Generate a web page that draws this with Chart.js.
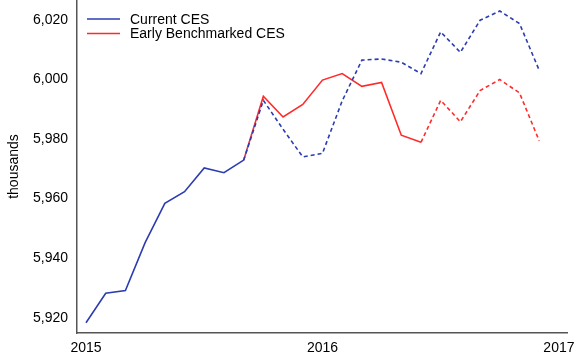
<!DOCTYPE html>
<html>
<head>
<meta charset="utf-8">
<script src="https://cdn.jsdelivr.net/npm/chart.js@4/dist/chart.umd.min.js"></script>
<style>
  html, body { margin: 0; padding: 0; background: #fff; }
  canvas { display: block; }
</style>
</head>
<body>
<canvas id="c" width="585" height="357"></canvas>
<script>
// ---- Data ----
const months = ['2015-01','2015-02','2015-03','2015-04','2015-05','2015-06','2015-07','2015-08','2015-09','2015-10','2015-11','2015-12',
                '2016-01','2016-02','2016-03','2016-04','2016-05','2016-06','2016-07','2016-08','2016-09','2016-10','2016-11','2016-12'];
const currentCES = [5918.3, 5928.2, 5929.1, 5945.2, 5958.4, 5962.3, 5970.3, 5968.7, 5972.9, 5993.0, 5983.3, 5974.0,
                    5975.2, 5992.8, 6006.5, 6006.9, 6005.8, 6002.0, 6016.0, 6009.1, 6019.9, 6023.0, 6018.8, 6003.1];
const earlyBenchmarkedCES = [null, null, null, null, null, null, null, null, 5972.9, 5994.4, 5987.4, 5991.6,
                             5999.8, 6002.0, 5997.7, 5999.0, 5981.3, 5978.9, 5993.0, 5985.8, 5996.3, 6000.0, 5995.5, 5979.4];
const seriesNames = ['Current CES', 'Early Benchmarked CES'];
const yearLabels = ['2015', '2016', '2017'];
const yTickValues = [5920, 5940, 5960, 5980, 6000, 6020];
const yTitle = 'thousands';
// each series is dashed (projection) from this month on
const currentDashFrom = '2015-09';
const earlyDashFrom = '2016-06';

// ---- Build ----
const xOf = m => { const [y, mo] = m.split('-').map(Number); return (y - 2015) * 12 + (mo - 1); };
const toPts = arr => months.map((m, i) => ({ x: xOf(m), y: arr[i] }));
const xTickValues = [];
for (let v = 0; v <= yearLabels.length * 12 - 12; v += 3) xTickValues.push(v);
const yearAt = v => (v % 12 === 0 ? yearLabels[v / 12] : '');

const BLUE = '#2b3db0';
const RED = '#ff2b2b';
const AXIS = '#555555';
const FONT = "'Liberation Sans', Arial, sans-serif";

const legendPlugin = {
  id: 'customLegend',
  afterDraw(chart) {
    const ctx = chart.ctx;
    ctx.save();
    ctx.font = '14px ' + FONT;
    ctx.textBaseline = 'middle';
    chart.data.datasets.forEach((ds, i) => {
      const y = 19 + i * 14.5;
      ctx.strokeStyle = ds.borderColor;
      ctx.lineWidth = 1.5;
      ctx.beginPath();
      ctx.moveTo(87, y);
      ctx.lineTo(120, y);
      ctx.stroke();
      ctx.fillStyle = '#000';
      ctx.fillText(ds.label, 130, y + 1);
    });
    ctx.restore();
  }
};

new Chart(document.getElementById('c'), {
  type: 'line',
  data: {
    datasets: [
      {
        label: seriesNames[0],
        data: toPts(currentCES),
        borderColor: BLUE,
        borderWidth: 1.6,
        pointRadius: 0,
        tension: 0,
        segment: { borderDash: c => (c.p0.parsed.x >= xOf(currentDashFrom) ? [4, 3] : undefined) }
      },
      {
        label: seriesNames[1],
        data: toPts(earlyBenchmarkedCES),
        borderColor: RED,
        borderWidth: 1.6,
        pointRadius: 0,
        tension: 0,
        spanGaps: false,
        segment: { borderDash: c => (c.p0.parsed.x >= xOf(earlyDashFrom) ? [4, 3] : undefined) }
      }
    ]
  },
  options: {
    responsive: false,
    animation: false,
    devicePixelRatio: 1,
    layout: { padding: { top: 0, right: 18, left: 0, bottom: 0 } },
    plugins: { legend: { display: false }, tooltip: { enabled: false } },
    scales: {
      x: {
        type: 'linear',
        min: -0.457,
        max: 24.41,
        afterBuildTicks: s => { s.ticks = xTickValues.map(v => ({ value: v })); },
        afterFit: s => { s.height = 24; s.paddingLeft = 0; s.paddingRight = 0; },
        grid: { display: false, drawOnChartArea: false, drawTicks: true, tickLength: 5, tickColor: AXIS },
        border: { display: true, color: AXIS, width: 1.5 },
        ticks: {
          autoSkip: false,
          maxRotation: 0,
          padding: 2,
          color: '#000',
          font: { family: FONT, size: 14 },
          callback: v => yearAt(v)
        }
      },
      y: {
        type: 'linear',
        min: 5914.86,
        max: 6026.7,
        afterBuildTicks: s => { s.ticks = yTickValues.map(v => ({ value: v })); },
        afterFit: s => { s.width = 77; s.paddingTop = 0; s.paddingBottom = 0; },
        grid: { display: false, drawOnChartArea: false, drawTicks: true, tickLength: 5, tickColor: AXIS },
        border: { display: true, color: AXIS, width: 1.5 },
        title: { display: true, text: yTitle, color: '#000', font: { family: FONT, size: 14 }, padding: { top: 6, bottom: 0 } },
        ticks: {
          padding: 4,
          color: '#000',
          font: { family: FONT, size: 14 },
          callback: v => v.toLocaleString('en-US')
        }
      }
    }
  },
  plugins: [legendPlugin]
});
</script>
</body>
</html>
